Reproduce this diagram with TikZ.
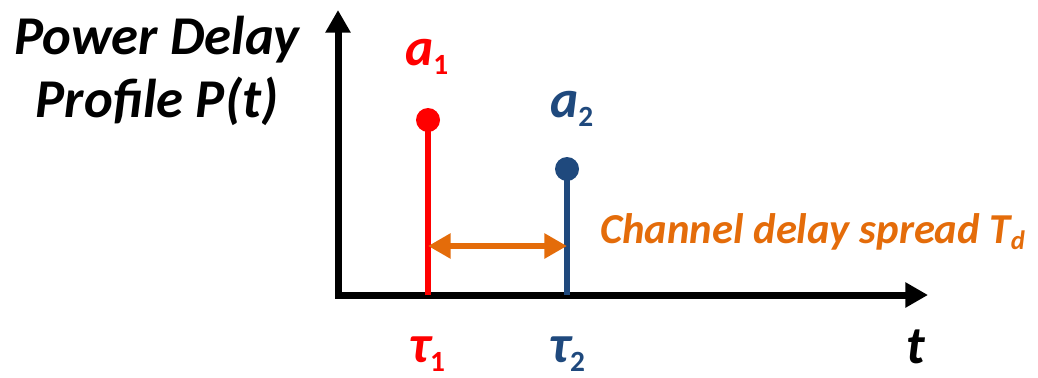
\documentclass[tikz,border=0pt]{standalone}
\usepackage{fontspec}
\setmainfont{Carlito}
\usetikzlibrary{arrows.meta, positioning}
\definecolor{tapred}{RGB}{255,0,0}
\definecolor{tapblue}{RGB}{31,73,125}
\definecolor{spreadorange}{RGB}{228,108,10}
\newcommand{\lowsub}[1]{\raisebox{-7pt}{\fontsize{22}{24}\selectfont\upshape #1}}

\begin{document}
\begin{tikzpicture}[x=0.75pt, y=-0.75pt,
    every node/.style={font=\bfseries\itshape, inner sep=0pt},
    axis/.style={line width=5.25pt, {Triangle[length=17pt,width=18pt]}-{Triangle[length=17pt,width=18pt]}},
    stem/.style={line width=5pt},
    dot/.style={circle, fill, inner sep=0pt, minimum size=18pt},
    biglabel/.style={font=\fontsize{40}{44}\selectfont\bfseries\itshape, anchor=base west},
    titlelabel/.style={font=\fontsize{41}{46}\selectfont\bfseries\itshape, anchor=base}]
  \useasboundingbox (0,0) rectangle (1038,378);

  % Achsen
  \coordinate (ytip) at (338,10);
  \coordinate (orig) at (338,295);
  \coordinate (xtip) at (928,295);
  \draw[axis] (ytip) -- (orig) -- (xtip);
  \node[titlelabel] (pdp1) at (157,55) {Power Delay};
  \node[titlelabel] (pdp2) at (157,117) {Profile P(t)};
  \node[biglabel, anchor=base] (tlab) at (916,363) {t};

  % Pfad 1
  \coordinate (tau1pos) at (428,295);
  \node[dot, tapred] (a1dot) at (428,120) {};
  \draw[stem, tapred] (tau1pos) -- (a1dot.center);
  \node[biglabel, tapred] (a1) at (405,65) {a\lowsub{1}};
  \node[biglabel, tapred] (tau1) at (409,362) {τ\lowsub{1}};

  % Pfad 2
  \coordinate (tau2pos) at (567,295);
  \node[dot, tapblue] (a2dot) at (567,169) {};
  \draw[stem, tapblue] (tau2pos) -- (a2dot.center);
  \node[biglabel, tapblue] (a2) at (550,117) {a\lowsub{2}};
  \node[biglabel, tapblue] (tau2) at (549,362) {τ\lowsub{2}};

  % Delay spread
  \coordinate (sp1) at (428,246);
  \coordinate (sp2) at (567,246);
  \draw[spreadorange, line width=4.5pt, {Triangle[length=17pt,width=18pt]}-{Triangle[length=17pt,width=18pt]}] (sp1) -- (sp2);
  \node[spreadorange, anchor=base west, font=\fontsize{32}{36}\selectfont\bfseries\itshape] (spread) at (600,243) {Channel delay spread T\raisebox{-5pt}{\fontsize{20}{22}\selectfont d}};
\end{tikzpicture}
\end{document}
